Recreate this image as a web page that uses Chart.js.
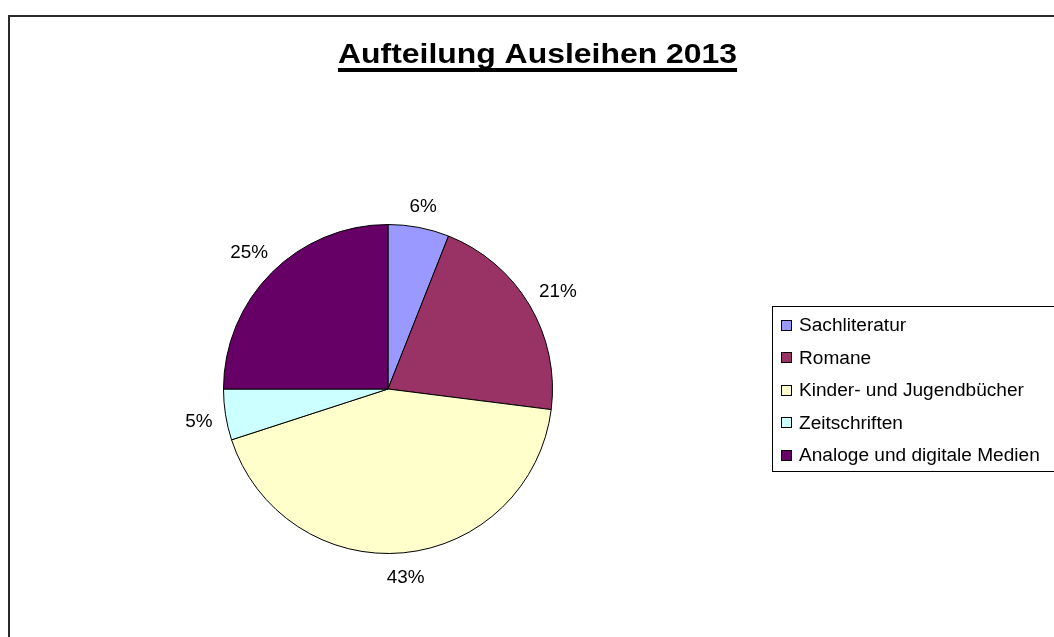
<!DOCTYPE html>
<html>
<head>
<meta charset="utf-8">
<script src="https://cdn.jsdelivr.net/npm/chart.js@4/dist/chart.umd.min.js"></script>
<style>
  html, body { margin: 0; padding: 0; background: #fff; overflow: hidden; }
  #wrap { position: relative; width: 1054px; height: 637px; }
  #frame { position: absolute; left: 8px; top: 15px; width: 1100px; height: 700px; border: 2px solid #2a2a2a; box-sizing: border-box; }
  #myPieChart { position: absolute; left: 0; top: 0; }
</style>
</head>
<body>
<div id="wrap">
  <div id="frame"></div>
  <canvas id="myPieChart" width="1054" height="637"></canvas>
</div>
<script>
const chartTitle = 'Aufteilung Ausleihen 2013';
const categories = ['Sachliteratur', 'Romane', 'Kinder- und Jugendbücher', 'Zeitschriften', 'Analoge und digitale Medien'];
const shares = [6, 21, 43, 5, 25];
const sliceColors = ['#9999FF', '#993366', '#FFFFCC', '#CCFFFF', '#660066'];

const FONT = 'Arial, "Liberation Sans", sans-serif';

// text a bit wider than the font gives, like the original render
const drawWide = (ctx, text, x, y, sx, align) => {
  ctx.save();
  ctx.translate(x, y);
  ctx.scale(sx, 1);
  ctx.textAlign = align;
  ctx.fillText(text, 0, 0);
  ctx.restore();
  return ctx.measureText(text).width * sx;
};

// title with underline, drawn by hand since Chart.js titles can't underline
const titlePlugin = {
  id: 'underlinedTitle',
  afterDraw(chart) {
    const ctx = chart.ctx;
    ctx.save();
    ctx.font = 'bold 28px ' + FONT;
    ctx.fillStyle = '#000';
    ctx.textBaseline = 'alphabetic';
    const x = 537.5, y = 63;
    const w = drawWide(ctx, chartTitle, x, y, 1.14, 'center');
    ctx.fillRect(x - w / 2, y + 5, w, 4);
    ctx.restore();
  }
};

// percentage labels just outside each slice
const outsideLabels = {
  id: 'outsideLabels',
  afterDatasetsDraw(chart) {
    const ctx = chart.ctx;
    const meta = chart.getDatasetMeta(0);
    const total = shares.reduce((a, b) => a + b, 0);
    ctx.save();
    ctx.font = '18px ' + FONT;
    ctx.fillStyle = '#000';
    ctx.textBaseline = 'middle';
    meta.data.forEach((arc, i) => {
      const txt = Math.round(shares[i] / total * 100) + '%';
      const mid = (arc.startAngle + arc.endAngle) / 2;
      const hw = ctx.measureText(txt).width * 1.05 / 2, hh = 9;
      const r = arc.outerRadius + 12 + hw * Math.abs(Math.cos(mid)) + hh * Math.abs(Math.sin(mid));
      const x = arc.x + Math.cos(mid) * r;
      const y = arc.y + Math.sin(mid) * r + 3;
      drawWide(ctx, txt, x, y, 1.05, 'center');
    });
    ctx.restore();
  }
};

// boxed legend on the right
const boxLegend = {
  id: 'boxLegend',
  afterDraw(chart) {
    const ctx = chart.ctx;
    const left = 772, top = 306, rowH = 32.6;
    ctx.save();
    ctx.strokeStyle = '#000';
    ctx.lineWidth = 1;
    ctx.strokeRect(left + 0.5, top + 0.5, 400, 165);
    ctx.font = '18px ' + FONT;
    ctx.textBaseline = 'middle';
    chart.data.labels.forEach((label, i) => {
      const cy = top + 19 + i * rowH;
      const sy = Math.round(cy - 5.5);
      ctx.fillStyle = sliceColors[i];
      ctx.fillRect(781, sy, 11, 11);
      ctx.strokeRect(781.5, sy + 0.5, 10, 10);
      ctx.fillStyle = '#000';
      drawWide(ctx, label, 799, cy + 1, 1.06, 'left');
    });
    ctx.restore();
  }
};

const ctx = document.getElementById('myPieChart').getContext('2d');
const myPieChart = new Chart(ctx, {
  type: 'pie',
  data: {
    labels: categories,
    datasets: [{
      data: shares,
      backgroundColor: sliceColors,
      borderColor: '#000',
      borderWidth: 1
    }]
  },
  options: {
    responsive: false,
    animation: false,
    layout: { padding: { left: 223, right: 501, top: 224, bottom: 83 } },
    plugins: {
      legend: { display: false },
      title: { display: false },
      tooltip: { enabled: false }
    }
  },
  plugins: [titlePlugin, outsideLabels, boxLegend]
});
</script>
</body>
</html>
